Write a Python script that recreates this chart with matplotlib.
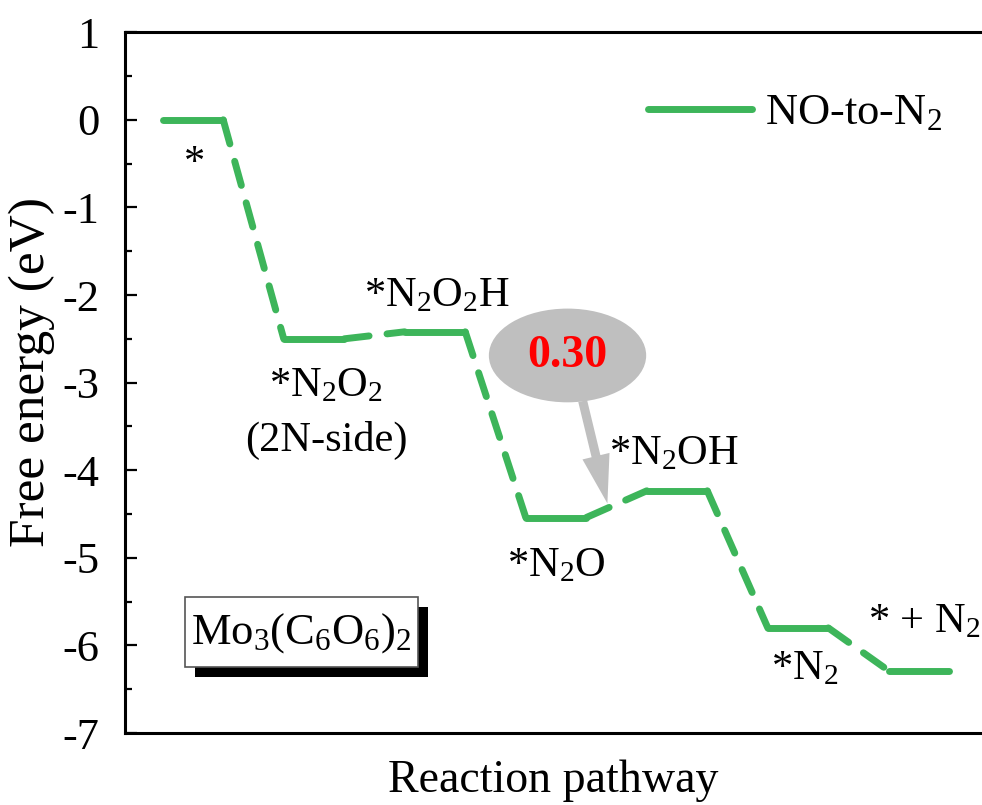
import matplotlib
matplotlib.use("Agg")
import matplotlib.pyplot as plt
from matplotlib.patches import Ellipse, Rectangle

plt.rcParams['font.family'] = ['Liberation Serif', 'DejaVu Serif']
plt.rcParams['mathtext.fontset'] = 'custom'
plt.rcParams['mathtext.rm'] = 'Liberation Serif'
plt.rcParams['mathtext.it'] = 'Liberation Serif:italic'
plt.rcParams['mathtext.default'] = 'regular'
plt.rcParams['axes.unicode_minus'] = False

# free energy of each intermediate (eV)
states = ['*', '*N$_2$O$_2$', '*N$_2$O$_2$H', '*N$_2$O', '*N$_2$OH', '*N$_2$', '* + N$_2$']
energies = [0.0, -2.50, -2.42, -4.54, -4.235, -5.80, -6.29]
barrier = 0.30

green = '#3db55a'
lw = 5

fig = plt.figure(figsize=(9.82, 8.05), dpi=100)
ax = fig.add_axes([0.127, 0.0894, 0.873, 0.8706])

# levels (solid) and connectors (dashed)
for i, e in enumerate(energies):
    x0 = 2 * i
    ax.plot([x0, x0 + 1], [e, e], color=green, lw=lw, solid_capstyle='round')
    if i < len(energies) - 1:
        ax.plot([x0 + 1, x0 + 2], [e, energies[i + 1]], color=green, lw=lw,
                dashes=(3.6, 2.6), dash_capstyle='round')

# state labels
fs = 30.5
ax.text(0.53, -0.50, states[0], fontsize=fs, ha='center', va='center')
ax.text(2.69, -3.04, states[1], fontsize=fs, ha='center', va='center')
ax.text(2.71, -3.66, '(2N-side)', fontsize=fs, ha='center', va='center')
ax.text(4.53, -2.01, states[2], fontsize=fs, ha='center', va='center')
ax.text(6.50, -5.09, states[3], fontsize=fs, ha='center', va='center')
ax.text(8.45, -3.81, states[4], fontsize=fs, ha='center', va='center')
ax.text(10.61, -6.27, states[5], fontsize=fs, ha='center', va='center')
ax.text(11.65, -5.73, states[6], fontsize=fs, ha='left', va='center', clip_on=False)

# limiting step bubble + arrow
ax.add_patch(Ellipse((6.69, -2.69), 2.6, 1.07, facecolor='#bfbfbf', edgecolor='none', zorder=3))
ax.text(6.69, -2.70, f'{barrier:.2f}', color='red', fontsize=33, fontweight='bold',
        ha='center', va='center', zorder=4)
ax.annotate('', xy=(7.36, -4.41), xytext=(6.93, -3.18),
            arrowprops=dict(arrowstyle='simple,head_length=35,head_width=20,tail_width=6.5',
                            mutation_scale=1, color='#bfbfbf', lw=0), zorder=3)

# legend
ax.plot([], [], color=green, lw=lw, solid_capstyle='round', label='NO-to-N$_2$')
ax.legend(loc='upper left', bbox_to_anchor=(0.61, 0.913), frameon=False, fontsize=32,
          handlelength=2.34, handletextpad=0.29, borderpad=0, borderaxespad=0)

# material box with shadow
ax.add_patch(Rectangle((0.082, 0.080), 0.272, 0.100, transform=ax.transAxes,
                       facecolor='black', edgecolor='none', zorder=5))
ax.add_patch(Rectangle((0.070, 0.094), 0.272, 0.100, transform=ax.transAxes,
                       facecolor='white', edgecolor='#555555', lw=1.2, zorder=6))
ax.text(0.206, 0.142, 'Mo$_3$(C$_6$O$_6$)$_2$', transform=ax.transAxes, fontsize=32,
        ha='center', va='center', zorder=7)

ax.set_xlim(-0.628, 13.54)
ax.set_ylim(-7, 1)
ax.set_yticks(range(-7, 2))
ax.set_yticks([v + 0.5 for v in range(-7, 1)], minor=True)
ax.set_xticks([])
ax.tick_params(axis='y', which='major', direction='in', length=8.6, width=1.6,
               labelsize=32, pad=18)
ax.tick_params(axis='y', which='minor', direction='in', length=5, width=1.6)
for s in ['left', 'top', 'bottom']:
    ax.spines[s].set_linewidth(2.2)
ax.spines['right'].set_visible(False)

ax.set_ylabel('Free energy (eV)', fontsize=37)
ax.yaxis.set_label_coords(-0.081, 0.515)
ax.set_xlabel('Reaction pathway', fontsize=33, labelpad=19)

fig.savefig('out.png', dpi=100)
